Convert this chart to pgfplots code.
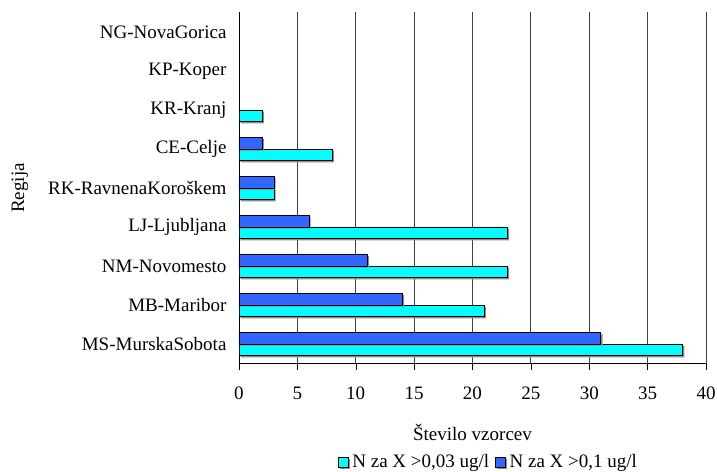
\documentclass[border=0pt]{standalone}
\usepackage{pgfplots}
\pgfplotsset{compat=1.18}
\usepackage{fontspec}
\setmainfont{Liberation Serif}
\definecolor{cyanbar}{HTML}{00FFFF}
\definecolor{bluebar}{HTML}{3366FF}
\begin{document}
\fontsize{19}{22}\selectfont
\begin{tikzpicture}
\begin{axis}[
  scale only axis,
  width=467pt, height=351pt,
  xbar,
  bar width=11.7pt,
  xmin=0, xmax=40,
  ymin=-0.5, ymax=8.5,
  xtick={0,5,...,40},
  ytick={0,1,...,8},
  yticklabels={MS-MurskaSobota,MB-Maribor,NM-Novomesto,LJ-Ljubljana,RK-RavnenaKoroškem,CE-Celje,KR-Kranj,KP-Koper,NG-NovaGorica},
  minor ytick={-0.5,0.5,...,8.5},
  major tick length=6pt,
  minor tick length=6pt,
  tick align=outside,
  tick pos=left,
  ytick style={draw=none},
  minor tick style={draw=black, thin},
  xtick style={black, thin},
  axis x line*=bottom,
  axis y line*=left,
  axis line style={black, thin, -},
  xmajorgrids,
  major grid style={black!75, line width=0.8pt},
  /pgf/number format/assume math mode=true,
  tick label style={font=\fontsize{19}{22}\selectfont},
  yticklabel style={xshift=0pt},
  xticklabel style={yshift=-11pt},
  label style={font=\fontsize{19}{22}\selectfont},
  xlabel={Število vzorcev},
  ylabel={Regija},
  xlabel style={at={(axis description cs:0.5,0)}, anchor=center, yshift=-68.5pt},
  ylabel style={at={(axis description cs:-0.469,0.5)}, anchor=center},
  legend style={at={(axis description cs:0.5,0)}, anchor=center, yshift=-98.5pt, xshift=16pt,
    draw=none, fill=none, font=\fontsize{19}{22}\selectfont, column sep=2pt,
    /tikz/every even column/.append style={column sep=4pt}},
  legend columns=2,
  legend image code/.code={\draw[#1, draw=black, thin] (0pt,-5pt) rectangle (10pt,5pt);},
  every axis plot/.append style={draw=black, line width=0.9pt,
     preaction={fill=black!45, draw=none, transform canvas={shift={(1.6pt,-1.6pt)}}}},
]
\addplot[fill=cyanbar, bar shift=-5.85pt] coordinates {(38,0) (21,1) (23,2) (23,3) (3,4) (8,5) (2,6)};
\addplot[fill=bluebar, bar shift=5.85pt] coordinates {(31,0) (14,1) (11,2) (6,3) (3,4) (2,5)};
\legend{{N za X >0,03 ug/l}, {N za X >0,1 ug/l}}
\end{axis}
\pgfresetboundingbox
\path (current axis.south west) ++(-239pt,-107.5pt) rectangle ++(717pt,471pt);
\end{tikzpicture}
\end{document}
